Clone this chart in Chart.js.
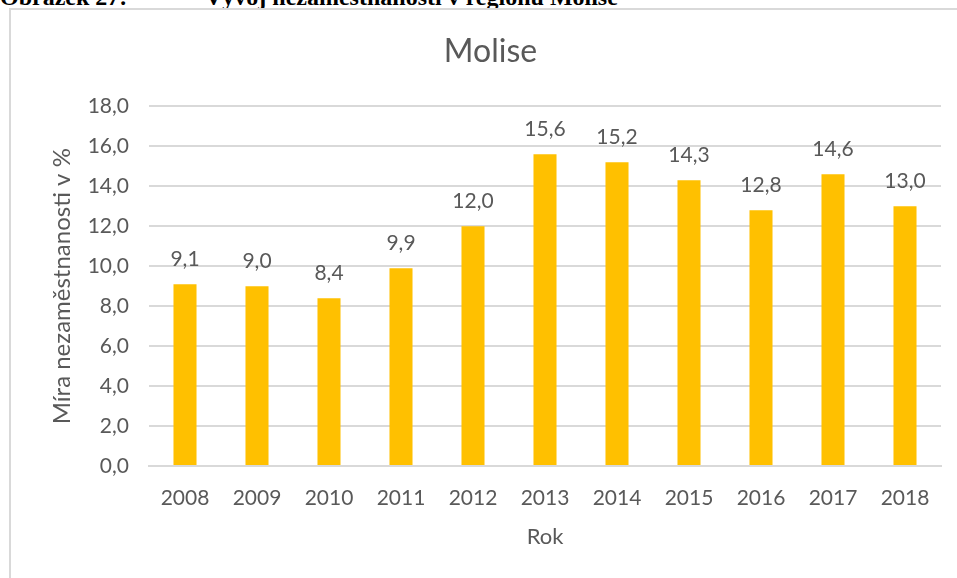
<!DOCTYPE html>
<html>
<head>
<meta charset="utf-8">
<script src="https://cdn.jsdelivr.net/npm/chart.js@4"></script>
<style>
  html, body { margin: 0; padding: 0; background: #fff; overflow: hidden; }
  .cap { position: absolute; top: -15px; line-height: 24px; font: bold 24px/24px "Liberation Serif", serif; color: #000; white-space: nowrap; }
  #frame { position: absolute; left: 9px; top: 8px; width: 960px; height: 580px; border-left: 2px solid #d9d9d9; border-top: 2px solid #d9d9d9; }
  #wrap { position: absolute; left: 0; top: 0; width: 957px; height: 578px; }
</style>
</head>
<body>
<div class="cap" style="left:0">Obrázek 27:</div>
<div class="cap" style="left:205px">Vývoj nezaměstnanosti v regionu Molise</div>
<div id="frame"></div>
<div id="wrap"><canvas id="moliseChart"></canvas></div>
<script>
const years = ['2008', '2009', '2010', '2011', '2012', '2013', '2014', '2015', '2016', '2017', '2018'];
const unemployment = [9.1, 9.0, 8.4, 9.9, 12.0, 15.6, 15.2, 14.3, 12.8, 14.6, 13.0];
const yTicks = [0, 2, 4, 6, 8, 10, 12, 14, 16, 18];

const grey = '#595959';
const fmt = v => v.toFixed(1).replace('.', ',');

// popisky hodnot nad sloupci
const valueLabels = {
    id: 'valueLabels',
    afterDatasetsDraw(chart) {
        const ctx = chart.ctx;
        const meta = chart.getDatasetMeta(0);
        ctx.save();
        ctx.font = '21px Lato';
        ctx.fillStyle = grey;
        ctx.textAlign = 'center';
        ctx.textBaseline = 'alphabetic';
        meta.data.forEach((bar, i) => {
            ctx.fillText(fmt(unemployment[i]), bar.x, bar.y - 18);
        });
        ctx.restore();
    }
};

function manageMoliseChart() {
    let ctx = document.getElementById('moliseChart').getContext('2d');
    new Chart(ctx, {
        type: 'bar',
        data: {
            labels: years,
            datasets: [{
                label: 'Míra nezaměstnanosti',
                data: unemployment,
                backgroundColor: '#FFC000',
                categoryPercentage: 0.64,
                barPercentage: 0.5
            }]
        },
        options: {
            responsive: true,
            maintainAspectRatio: false,
            animation: false,
            layout: { padding: { left: 40, right: 16, top: 0, bottom: 0 } },
            plugins: {
                legend: { display: false },
                tooltip: { enabled: false },
                title: {
                    display: true,
                    text: 'Molise',
                    color: grey,
                    font: { family: 'Lato', size: 32, weight: 'normal' },
                    padding: { top: 32, bottom: 36 }
                }
            },
            scales: {
                x: {
                    afterFit: axis => { axis.height = 112; },
                    grid: { display: false },
                    border: { color: '#d9d9d9', width: 2 },
                    ticks: { color: grey, font: { family: 'Lato', size: 21 }, padding: 12 },
                    title: { display: true, text: 'Rok', color: grey, font: { family: 'Lato', size: 22 }, padding: { top: 0, bottom: 28 } }
                },
                y: {
                    min: 0,
                    max: 18,
                    afterFit: axis => { axis.width = 109; },
                    afterBuildTicks: axis => { axis.ticks = yTicks.map(v => ({ value: v })); },
                    grid: { color: '#d9d9d9', lineWidth: 2, drawTicks: false },
                    border: { display: false },
                    ticks: { color: grey, font: { family: 'Lato', size: 21 }, padding: 20, callback: v => fmt(v) },
                    title: { display: true, text: 'Míra nezaměstnanosti v %', color: grey, font: { family: 'Lato', size: 24 }, padding: { top: 8, bottom: 0 } }
                }
            }
        },
        plugins: [valueLabels]
    });
}

manageMoliseChart();
</script>
</body>
</html>
